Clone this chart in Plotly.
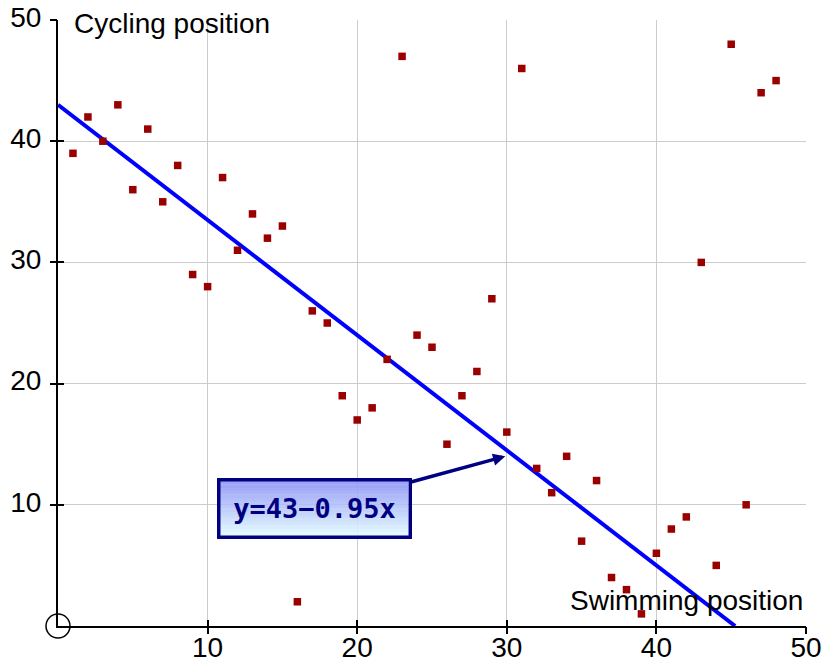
import plotly.graph_objects as go

# ---- data ----
swimming = list(range(1, 49))
cycling = [39, 42, 40, 43, 36, 41, 35, 38, 29, 28,
           37, 31, 34, 32, 33, 2, 26, 25, 19, 17,
           18, 22, 47, 24, 23, 15, 19, 21, 27, 16,
           46, 13, 11, 14, 7, 12, 4, 3, 1, 6,
           8, 9, 30, 5, 48, 10, 44, 45]
intercept = 43
slope = -0.95
tick_vals = [10, 20, 30, 40, 50]
tick_text = ["10", "20", "30", "40", "50"]
eq_label = "y=43\u22120.95x"
arrow_point = (29.9, 14.0)

W, H = 824, 664
ML, MR, MT, MB = 58, 18, 20, 38
PW, PH = W - ML - MR, H - MT - MB

FONT = "Liberation Sans, Arial, sans-serif"
NAVY = "#000080"
FS = 28

fig = go.Figure()

# fit line
x_end = intercept / -slope
fig.add_trace(go.Scatter(
    x=[0, x_end], y=[intercept, intercept + slope * x_end],
    mode="lines", line=dict(color="#0000ff", width=4),
    hoverinfo="skip", showlegend=False))

# points
fig.add_trace(go.Scatter(
    x=swimming, y=cycling, mode="markers",
    marker=dict(symbol="square", size=7.5, color="#990000"),
    showlegend=False, cliponaxis=False))

# origin circle
fig.add_trace(go.Scatter(
    x=[0], y=[0], mode="markers",
    marker=dict(symbol="circle-open", size=24, color="black",
                line=dict(width=1.5, color="black")),
    hoverinfo="skip", showlegend=False, cliponaxis=False))

# invisible trace on overlay axes (for crossing tick marks)
fig.add_trace(go.Scatter(
    x=[0], y=[0], xaxis="x2", yaxis="y2", mode="markers",
    marker=dict(opacity=0), hoverinfo="skip", showlegend=False))

common = dict(range=[0, 50], tickmode="array", tickvals=tick_vals,
              zeroline=False, fixedrange=True, automargin=False)

fig.update_layout(
    width=W, height=H,
    margin=dict(l=ML, r=MR, t=MT, b=MB, autoexpand=False),
    paper_bgcolor="white", plot_bgcolor="white",
    showlegend=False,
    xaxis=dict(**common, ticktext=tick_text, showgrid=True,
               gridcolor="#cccccc", gridwidth=1,
               showline=True, linecolor="black", linewidth=2,
               ticks="inside", ticklen=6, tickwidth=2, tickcolor="black",
               ticklabelstandoff=-5,
               tickfont=dict(family=FONT, size=FS, color="black")),
    yaxis=dict(**common, ticktext=tick_text, showgrid=True,
               gridcolor="#cccccc", gridwidth=1,
               showline=True, linecolor="black", linewidth=2,
               ticks="inside", ticklen=6, tickwidth=2, tickcolor="black",
               ticklabelstandoff=9, ticklabelshift=-3,
               tickfont=dict(family=FONT, size=FS, color="black")),
    xaxis2=dict(**common, overlaying="x", anchor="y", side="bottom",
                showgrid=False, showline=False, showticklabels=False,
                ticks="outside", ticklen=7, tickwidth=2, tickcolor="black"),
    yaxis2=dict(**common, overlaying="y", anchor="x", side="left",
                showgrid=False, showline=False, showticklabels=False,
                ticks="outside", ticklen=7, tickwidth=2, tickcolor="black"),
)

# axis titles
fig.add_annotation(x=0, y=50, xref="x", yref="y", text="Cycling position",
                   showarrow=False, xanchor="left", yanchor="middle",
                   xshift=14, yshift=-3,
                   font=dict(family=FONT, size=FS, color="black"))
fig.add_annotation(x=50, y=0, xref="x", yref="y", text="Swimming position",
                   showarrow=False, xanchor="right", yanchor="bottom",
                   xshift=-1, yshift=8,
                   font=dict(family=FONT, size=FS, color="black"))

# gradient background of equation box (pixel box -> paper coords)
bx0, bx1, by0, by1 = 219, 408, 481, 536
top_c = (140, 146, 245)
bot_c = (224, 250, 255)
n = 16
for i in range(n):
    t = (i + 0.5) / n
    c = tuple(round(top_c[k] + (bot_c[k] - top_c[k]) * t) for k in range(3))
    y_top = by0 + (by1 - by0) * i / n
    y_bot = by0 + (by1 - by0) * (i + 1) / n
    fig.add_shape(type="rect", xref="paper", yref="paper",
                  x0=(bx0 - ML) / PW, x1=(bx1 - ML) / PW,
                  y0=(H - MB - y_bot) / PH, y1=(H - MB - y_top) / PH + 0.0005,
                  fillcolor="rgb(%d,%d,%d)" % c, line=dict(width=0),
                  opacity=0.88, layer="above")

# equation annotation with arrow
fig.add_annotation(
    x=arrow_point[0], y=arrow_point[1], xref="x", yref="y",
    text="<b>" + eq_label + "</b>",
    showarrow=True, axref="pixel", ayref="pixel",
    ax=-191, ay=52,
    arrowcolor=NAVY, arrowwidth=3.5, arrowhead=2, arrowsize=0.7, standoff=0,
    bordercolor=NAVY, borderwidth=3.5, borderpad=0,
    width=188, height=54, bgcolor="rgba(0,0,0,0)",
    font=dict(family="DejaVu Sans Mono, monospace", size=27, color=NAVY),
    align="center", valign="middle")

fig.write_html("out.html")
